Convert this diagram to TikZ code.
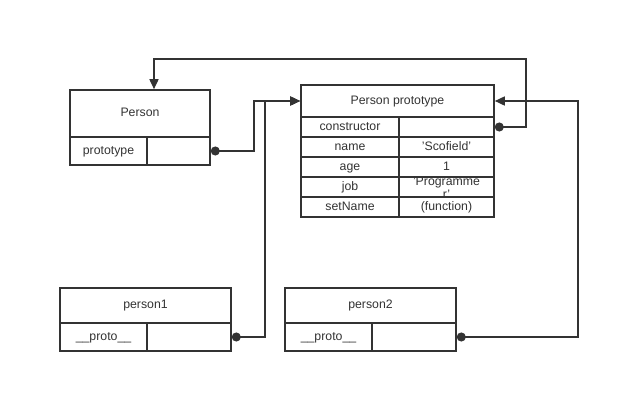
\documentclass[tikz,border=0pt]{standalone}
\usepackage{fontspec}
\setmainfont{Liberation Sans}
\usetikzlibrary{arrows.meta,positioning,calc}
\definecolor{linegray}{RGB}{51,51,51}

\begin{document}
\begin{tikzpicture}[x=1pt,y=-1pt,
    cell/.style={rectangle, draw=linegray, line width=1.6pt, inner sep=0pt,
                 text height=8.6pt, text depth=2.4pt,
                 font=\fontsize{12.3}{14}\selectfont, text=linegray},
    link/.style={draw=linegray, line width=1.6pt,
                 {Circle[length=9pt]}-{Triangle[length=10pt,width=9pt]}}
]
\useasboundingbox (0,0) rectangle (637,410);

% Person
\node[cell, minimum width=140pt, minimum height=47pt] (personTitle) at (140,113.5) {Person};
\node[cell, minimum width=77pt, minimum height=28pt] (personKey) at (108.5,151) {prototype};
\node[cell, minimum width=63pt, minimum height=28pt] (personVal) at (178.5,151) {};

% Person prototype
\node[cell, minimum width=193pt, minimum height=32pt] (protoTitle) at (397.5,101) {Person prototype};
\node[cell, minimum width=98pt, minimum height=20pt] (ctorKey) at (350,127) {constructor};
\node[cell, minimum width=95pt, minimum height=20pt] (ctorVal) at (446.5,127) {};
\node[cell, minimum width=98pt, minimum height=20pt] (nameKey) at (350,147) {name};
\node[cell, minimum width=95pt, minimum height=20pt] (nameVal) at (446.5,147) {'Scofield'};
\node[cell, minimum width=98pt, minimum height=20pt] (ageKey) at (350,167) {age};
\node[cell, minimum width=95pt, minimum height=20pt] (ageVal) at (446.5,167) {1};
\node[cell, minimum width=98pt, minimum height=20pt] (jobKey) at (350,187) {job};
\node[cell, minimum width=95pt, minimum height=20pt] (jobVal) at (446.5,187) {};
\node[cell, minimum width=98pt, minimum height=20pt] (setKey) at (350,207) {setName};
\node[cell, minimum width=95pt, minimum height=20pt] (setVal) at (446.5,207) {(function)};
\node[font=\fontsize{12.3}{13}\selectfont, text=linegray, align=center, inner sep=0pt] (jobText) at (446.5,188) {'Programme\\r'};

% person1
\node[cell, minimum width=171pt, minimum height=35pt] (p1Title) at (145.5,305.5) {person1};
\node[cell, minimum width=87pt, minimum height=28pt] (p1Key) at (103.5,337) {\_\_proto\_\_};
\node[cell, minimum width=84pt, minimum height=28pt] (p1Val) at (189,337) {};

% person2
\node[cell, minimum width=171pt, minimum height=35pt] (p2Title) at (370.5,305.5) {person2};
\node[cell, minimum width=87pt, minimum height=28pt] (p2Key) at (328.5,337) {\_\_proto\_\_};
\node[cell, minimum width=84pt, minimum height=28pt] (p2Val) at (414,337) {};

% links
\draw[link] (personVal.east) -| ([xshift=-46pt]protoTitle.west) -- (protoTitle.west);
\draw[link] (p1Val.east) -| ([xshift=-35pt]protoTitle.west) -- (protoTitle.west);
\draw[link] (ctorVal.east) -- ++(31,0) |- ([xshift=14pt,yshift=30pt]personTitle.north) -- ([xshift=14pt]personTitle.north);
\draw[link] (p2Val.east) -| ([xshift=83pt]protoTitle.east) -- (protoTitle.east);
\end{tikzpicture}
\end{document}
